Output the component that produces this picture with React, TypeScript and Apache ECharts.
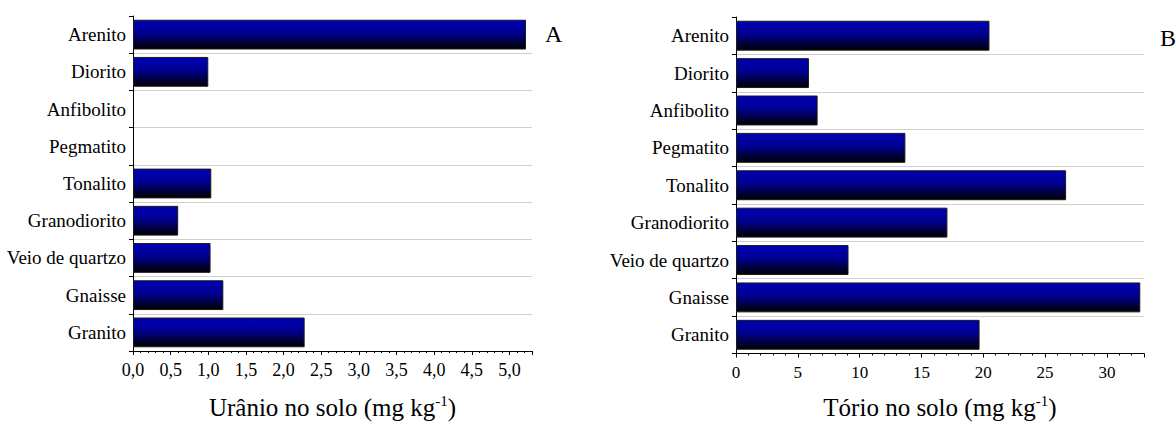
import React, { useEffect, useRef } from "react";
import * as echarts from "echarts";

const categories = [
  "Granito",
  "Gnaisse",
  "Veio de quartzo",
  "Granodiorito",
  "Tonalito",
  "Pegmatito",
  "Anfibolito",
  "Diorito",
  "Arenito",
];
const uranio: (number | null)[] = [2.28, 1.2, 1.03, 0.6, 1.04, null, null, 1.0, 5.22];
const torio: number[] = [19.7, 32.7, 9.1, 17.1, 26.7, 13.7, 6.6, 5.9, 20.5];

const FONT = "Liberation Serif";

const barStyle = {
  color: new echarts.graphic.LinearGradient(0, 0, 0, 1, [
    { offset: 0, color: "#0000b4" },
    { offset: 0.45, color: "#000090" },
    { offset: 1, color: "#000000" },
  ]),
  borderColor: "#1a1a1a",
  borderWidth: 1,
};

function catAxis(gridIndex: number) {
  return {
    type: "category",
    gridIndex,
    data: categories,
    axisLine: { show: true, lineStyle: { color: "#000", width: 1 } },
    axisTick: { show: true, length: 4, lineStyle: { color: "#000" } },
    axisLabel: { color: "#000", fontFamily: FONT, fontSize: 19, margin: 7 },
    splitLine: { show: true, showMaxLine: false, lineStyle: { color: "#cfcfcf", width: 1 } },
  };
}

function titleStyle() {
  return {
    color: "#000",
    fontFamily: FONT,
    fontSize: 25,
    rich: {
      t: { fontFamily: FONT, fontSize: 25, color: "#000", lineHeight: 28 },
      s: { fontFamily: FONT, fontSize: 15, color: "#000", verticalAlign: "top", lineHeight: 28 },
    },
  };
}

export default function App() {
  const ref = useRef<HTMLDivElement>(null);
  useEffect(() => {
    if (!ref.current) return;
    const chart = echarts.init(ref.current, undefined, { renderer: "svg" });
    chart.setOption({
      animation: false,
      backgroundColor: "#fff",
      textStyle: { fontFamily: FONT },
      grid: [
        { left: 133, top: 16, width: 399, height: 335 },
        { left: 736, top: 17, width: 408, height: 342 },
      ],
      xAxis: [
        {
          type: "value",
          gridIndex: 0,
          min: 0,
          max: 5.3,
          interval: 0.5,
          axisLine: { show: true, lineStyle: { color: "#000" } },
          axisTick: { show: true, length: 4, lineStyle: { color: "#000" } },
          minorTick: { show: true, splitNumber: 5, length: 2, lineStyle: { color: "#000" } },
          splitLine: { show: false },
          axisLabel: {
            color: "#000",
            fontFamily: FONT,
            fontSize: 18,
            margin: 10,
            formatter: (v: number) =>
              Math.abs(v / 0.5 - Math.round(v / 0.5)) < 1e-6 ? v.toFixed(1).replace(".", ",") : "",
          },
          name: "{t|Urânio no solo (mg kg}{s|-1}{t|)}",
          nameLocation: "middle",
          nameGap: 42,
          nameTextStyle: titleStyle(),
        },
        {
          type: "value",
          gridIndex: 1,
          min: 0,
          max: 33,
          interval: 5,
          axisLine: { show: true, lineStyle: { color: "#000" } },
          axisTick: { show: true, length: 4, lineStyle: { color: "#000" } },
          minorTick: { show: true, splitNumber: 5, length: 2, lineStyle: { color: "#000" } },
          splitLine: { show: false },
          axisLabel: {
            color: "#000",
            fontFamily: FONT,
            fontSize: 17,
            margin: 10,
            formatter: (v: number) => (v % 5 === 0 ? String(v) : ""),
          },
          name: "{t|Tório no solo (mg kg}{s|-1}{t|)}",
          nameLocation: "middle",
          nameGap: 40,
          nameTextStyle: titleStyle(),
        },
      ],
      yAxis: [catAxis(0), catAxis(1)],
      series: [
        {
          type: "bar",
          xAxisIndex: 0,
          yAxisIndex: 0,
          data: uranio,
          barCategoryGap: "20%",
          itemStyle: barStyle,
        },
        {
          type: "bar",
          xAxisIndex: 1,
          yAxisIndex: 1,
          data: torio,
          barCategoryGap: "20%",
          itemStyle: barStyle,
        },
      ],
      graphic: [
        {
          type: "text",
          left: 545,
          top: 22,
          style: { text: "A", fontFamily: FONT, fontSize: 24, fill: "#000" },
        },
        {
          type: "text",
          left: 1160,
          top: 26,
          style: { text: "B", fontFamily: FONT, fontSize: 24, fill: "#000" },
        },
      ],
    });
    return () => chart.dispose();
  }, []);
  return (
    <div
      ref={ref}
      style={{ position: "fixed", left: 0, top: 0, width: 1176, height: 425, background: "#fff" }}
    />
  );
}
